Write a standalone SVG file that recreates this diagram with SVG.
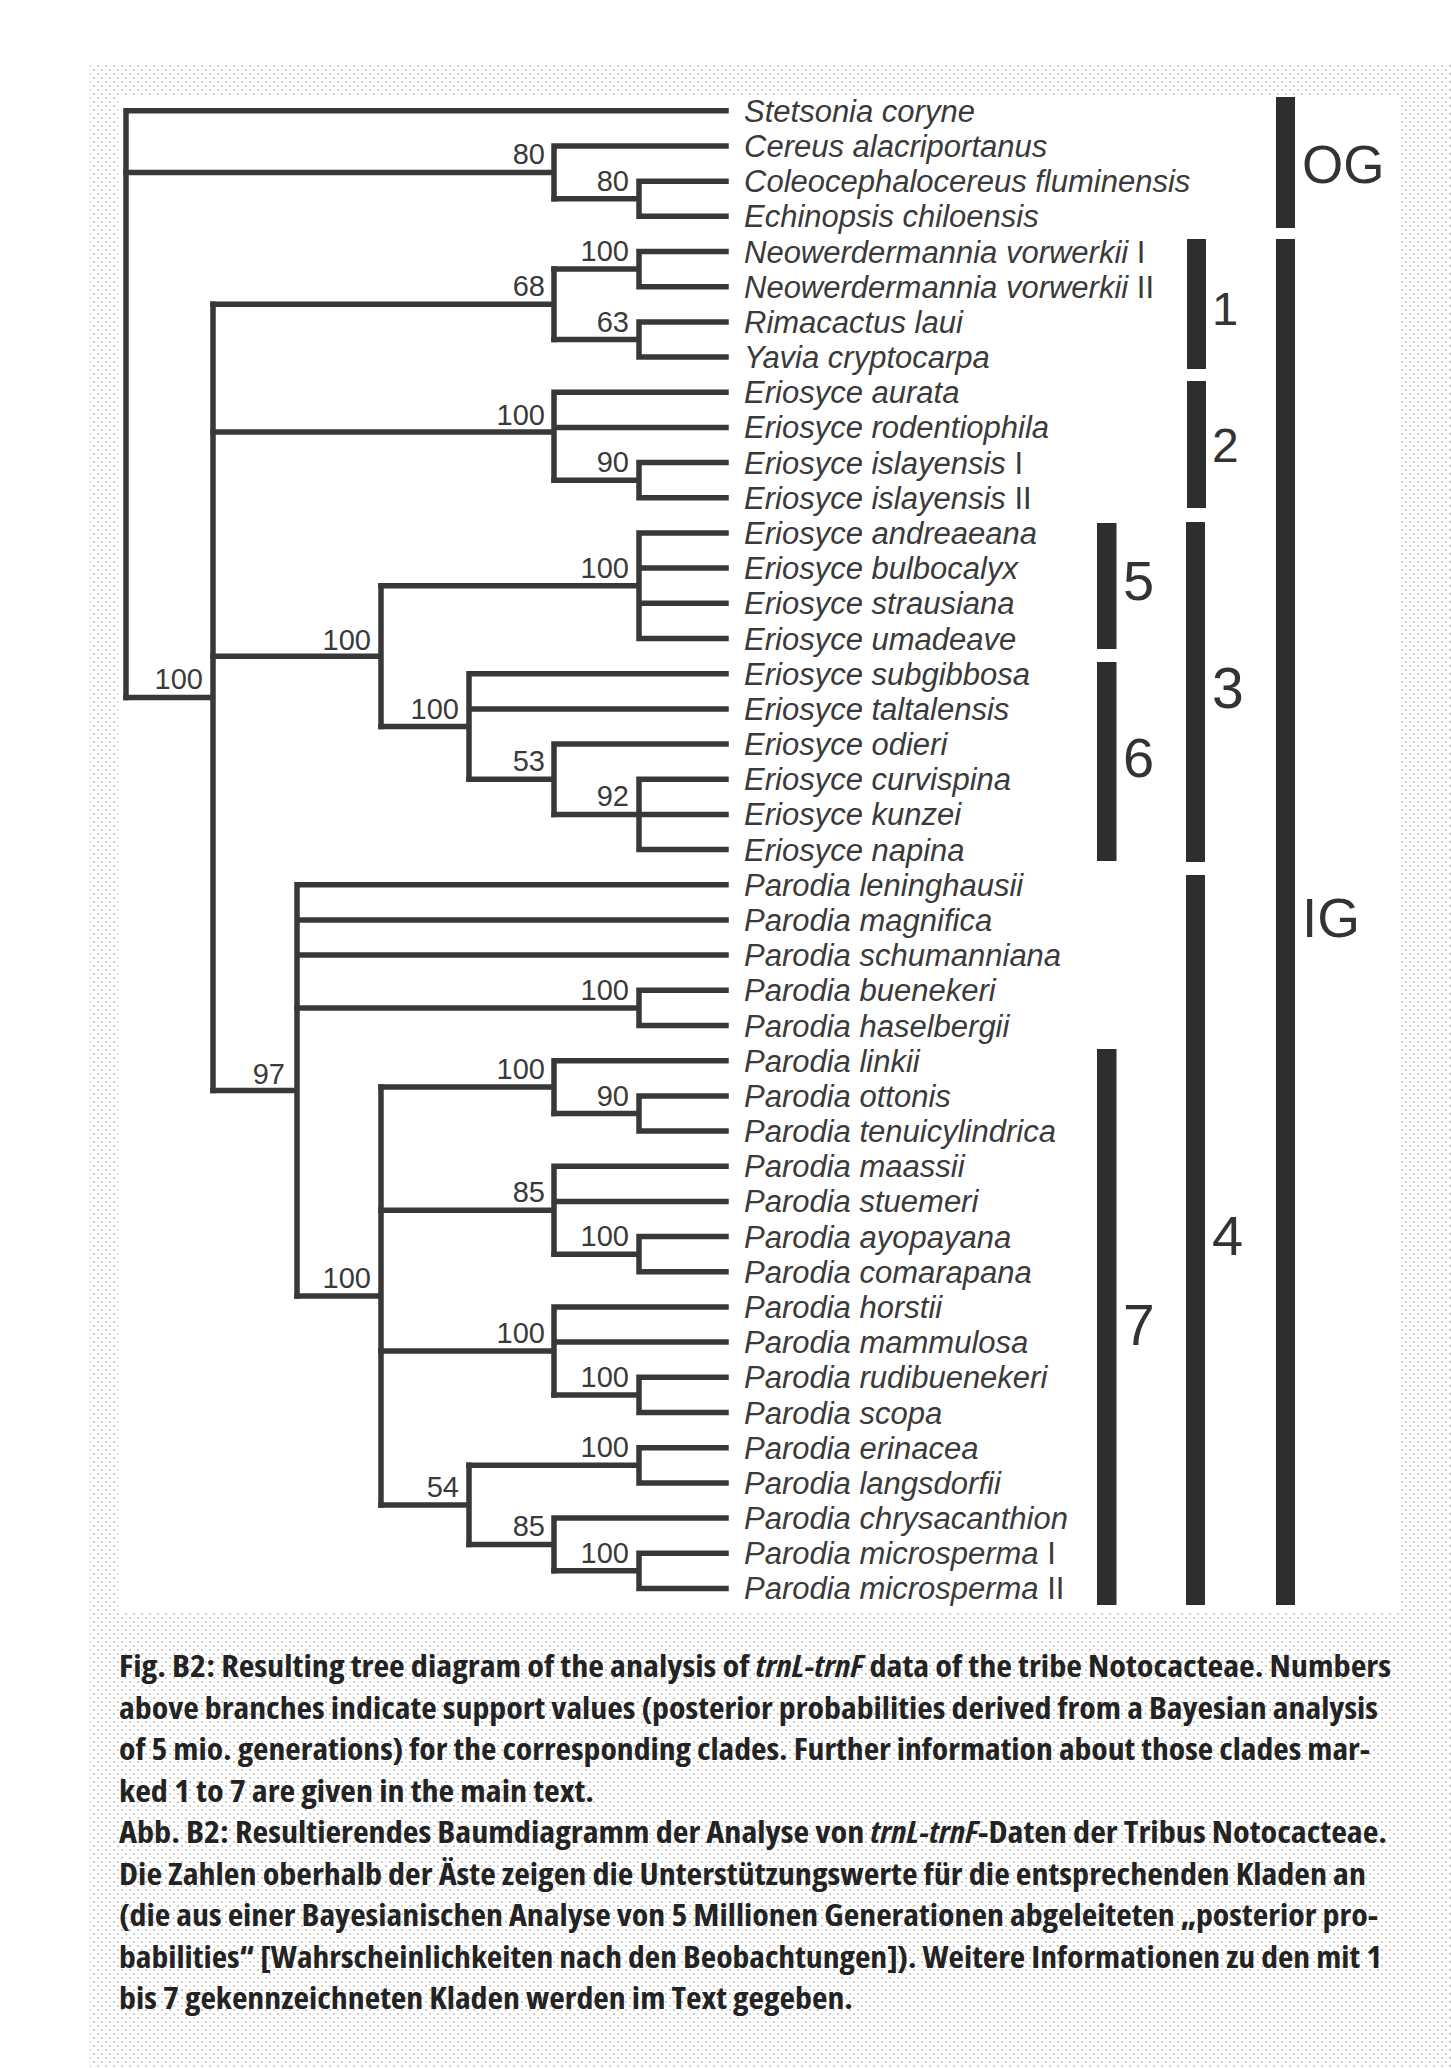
<svg xmlns="http://www.w3.org/2000/svg" width="1451" height="2068" viewBox="0 0 1451 2068">
<defs>
<pattern id="dots" width="8" height="8" patternUnits="userSpaceOnUse">
<circle cx="2" cy="2" r="0.9" fill="#b4b4b4"/><circle cx="6" cy="6" r="0.9" fill="#b4b4b4"/>
</pattern>
<style>
.br{fill:none;stroke:#383838;stroke-width:5.5;stroke-linecap:square;stroke-linejoin:miter}
.tx{font-family:"Liberation Sans",Arial,sans-serif;font-style:italic;font-size:31px;fill:#3a3a3a}
.tx .r{font-style:normal}
.sv{font-family:"Liberation Sans",Arial,sans-serif;font-size:29px;fill:#3a3a3a;text-anchor:end}
.bar{fill:#2e2e2e}
.bl{font-family:"Liberation Sans",Arial,sans-serif;fill:#333}
.cap{font-family:"Open Sans","Liberation Sans",sans-serif;font-weight:700;font-stretch:condensed;font-size:30px;fill:#232323}
</style>
</defs>
<rect width="1451" height="2068" fill="#fff"/>
<rect x="90" y="65" width="1361" height="2003" fill="url(#dots)"/>
<rect x="118" y="95" width="1283" height="1517" fill="#fff"/>

<g id="connectors" class="br">
<path d="M126 110.8V697.4M126 110.8H726"/>
<path d="M126 172.4H554M554 146V198.8M554 146H726"/>
<path d="M554 198.8H639M639 181.2V216.3M639 181.2H726M639 216.3H726"/>
<path d="M126 697.4H213M213 304.3V1090.4"/>
<path d="M213 304.3H554M554 269.1V339.5"/>
<path d="M554 269.1H639M639 251.5V286.7M639 251.5H726M639 286.7H726"/>
<path d="M554 339.5H639M639 321.9V357.1M639 321.9H726M639 357.1H726"/>
<path d="M213 432H554M554 392.2V480.2M554 392.2H726M554 427.4H726"/>
<path d="M554 480.2H639M639 462.6V497.8M639 462.6H726M639 497.8H726"/>
<path d="M213 656.2H381M381 585.8V726.5"/>
<path d="M381 585.8H639M639 533V638.5M639 533H726M639 568.1H726M639 603.3H726M639 638.5H726"/>
<path d="M381 726.5H469M469 673.7V779.2M469 673.7H726M469 708.9H726"/>
<path d="M469 779.2H554M554 744V814.4M554 744H726"/>
<path d="M554 814.4H639M639 779.2V849.6M639 779.2H726M639 814.4H726M639 849.6H726"/>
<path d="M213 1090.4H297M297 884.8V1296M297 884.8H726M297 920H726M297 955.1H726"/>
<path d="M297 1007.9H639M639 990.3V1025.5M639 990.3H726M639 1025.5H726"/>
<path d="M297 1296H381M381 1087.1V1504.9"/>
<path d="M381 1087.1H554M554 1060.7V1113.5M554 1060.7H726"/>
<path d="M554 1113.5H639M639 1095.9V1131M639 1095.9H726M639 1131H726"/>
<path d="M381 1210.2H554M554 1166.2V1254.2M554 1166.2H726M554 1201.4H726"/>
<path d="M554 1254.2H639M639 1236.6V1271.8M639 1236.6H726M639 1271.8H726"/>
<path d="M381 1351H554M554 1307V1394.9M554 1307H726M554 1342.1H726"/>
<path d="M554 1394.9H639M639 1377.3V1412.5M639 1377.3H726M639 1412.5H726"/>
<path d="M381 1504.9H469M469 1465.3V1544.4"/>
<path d="M469 1465.3H639M639 1447.7V1482.9M639 1447.7H726M639 1482.9H726"/>
<path d="M469 1544.4H554M554 1518V1570.8M554 1518H726"/>
<path d="M554 1570.8H639M639 1553.2V1588.4M639 1553.2H726M639 1588.4H726"/>
</g>

<g id="taxa" class="tx">
<g id="t00"><text x="744" y="121.8">Stetsonia coryne</text></g>
<g id="t01"><text x="744" y="157">Cereus alacriportanus</text></g>
<g id="t02"><text x="744" y="192.2">Coleocephalocereus fluminensis</text></g>
<g id="t03"><text x="744" y="227.3">Echinopsis chiloensis</text></g>
<g id="t04"><text x="744" y="262.5">Neowerdermannia vorwerkii <tspan class="r">I</tspan></text></g>
<g id="t05"><text x="744" y="297.7">Neowerdermannia vorwerkii <tspan class="r">II</tspan></text></g>
<g id="t06"><text x="744" y="332.9">Rimacactus laui</text></g>
<g id="t07"><text x="744" y="368.1">Yavia cryptocarpa</text></g>
<g id="t08"><text x="744" y="403.2">Eriosyce aurata</text></g>
<g id="t09"><text x="744" y="438.4">Eriosyce rodentiophila</text></g>
<g id="t10"><text x="744" y="473.6">Eriosyce islayensis <tspan class="r">I</tspan></text></g>
<g id="t11"><text x="744" y="508.8">Eriosyce islayensis <tspan class="r">II</tspan></text></g>
<g id="t12"><text x="744" y="544">Eriosyce andreaeana</text></g>
<g id="t13"><text x="744" y="579.1">Eriosyce bulbocalyx</text></g>
<g id="t14"><text x="744" y="614.3">Eriosyce strausiana</text></g>
<g id="t15"><text x="744" y="649.5">Eriosyce umadeave</text></g>
<g id="t16"><text x="744" y="684.7">Eriosyce subgibbosa</text></g>
<g id="t17"><text x="744" y="719.9">Eriosyce taltalensis</text></g>
<g id="t18"><text x="744" y="755">Eriosyce odieri</text></g>
<g id="t19"><text x="744" y="790.2">Eriosyce curvispina</text></g>
<g id="t20"><text x="744" y="825.4">Eriosyce kunzei</text></g>
<g id="t21"><text x="744" y="860.6">Eriosyce napina</text></g>
<g id="t22"><text x="744" y="895.8">Parodia leninghausii</text></g>
<g id="t23"><text x="744" y="931">Parodia magnifica</text></g>
<g id="t24"><text x="744" y="966.1">Parodia schumanniana</text></g>
<g id="t25"><text x="744" y="1001.3">Parodia buenekeri</text></g>
<g id="t26"><text x="744" y="1036.5">Parodia haselbergii</text></g>
<g id="t27"><text x="744" y="1071.7">Parodia linkii</text></g>
<g id="t28"><text x="744" y="1106.9">Parodia ottonis</text></g>
<g id="t29"><text x="744" y="1142">Parodia tenuicylindrica</text></g>
<g id="t30"><text x="744" y="1177.2">Parodia maassii</text></g>
<g id="t31"><text x="744" y="1212.4">Parodia stuemeri</text></g>
<g id="t32"><text x="744" y="1247.6">Parodia ayopayana</text></g>
<g id="t33"><text x="744" y="1282.8">Parodia comarapana</text></g>
<g id="t34"><text x="744" y="1318">Parodia horstii</text></g>
<g id="t35"><text x="744" y="1353.1">Parodia mammulosa</text></g>
<g id="t36"><text x="744" y="1388.3">Parodia rudibuenekeri</text></g>
<g id="t37"><text x="744" y="1423.5">Parodia scopa</text></g>
<g id="t38"><text x="744" y="1458.7">Parodia erinacea</text></g>
<g id="t39"><text x="744" y="1493.9">Parodia langsdorfii</text></g>
<g id="t40"><text x="744" y="1529">Parodia chrysacanthion</text></g>
<g id="t41"><text x="744" y="1564.2">Parodia microsperma <tspan class="r">I</tspan></text></g>
<g id="t42"><text x="744" y="1599.4">Parodia microsperma <tspan class="r">II</tspan></text></g>
</g>

<g id="support" class="sv">
<g id="n-A"><text x="545" y="164.4">80</text></g>
<g id="n-CE"><text x="629" y="190.8">80</text></g>
<g id="n-Neo"><text x="629" y="261.1">100</text></g>
<g id="n-68"><text x="545" y="296.3">68</text></g>
<g id="n-63"><text x="629" y="331.5">63</text></g>
<g id="n-C2"><text x="545" y="424.5">100</text></g>
<g id="n-90a"><text x="629" y="472.2">90</text></g>
<g id="n-C5"><text x="629" y="577.8">100</text></g>
<g id="n-C3"><text x="371" y="650">100</text></g>
<g id="n-IG"><text x="203" y="689">100</text></g>
<g id="n-C6"><text x="459" y="718.5">100</text></g>
<g id="n-53"><text x="545" y="771.2">53</text></g>
<g id="n-92"><text x="629" y="806.4">92</text></g>
<g id="n-Bue"><text x="629" y="999.9">100</text></g>
<g id="n-97"><text x="285" y="1084">97</text></g>
<g id="n-Lk"><text x="545" y="1079.1">100</text></g>
<g id="n-90b"><text x="629" y="1105.5">90</text></g>
<g id="n-85a"><text x="545" y="1202.2">85</text></g>
<g id="n-100c"><text x="629" y="1246.2">100</text></g>
<g id="n-C7"><text x="371" y="1288">100</text></g>
<g id="n-Hor"><text x="545" y="1343">100</text></g>
<g id="n-100d"><text x="629" y="1386.9">100</text></g>
<g id="n-Eri"><text x="629" y="1457.3">100</text></g>
<g id="n-54"><text x="459" y="1496.9">54</text></g>
<g id="n-85b"><text x="545" y="1536.4">85</text></g>
<g id="n-Mic"><text x="629" y="1562.8">100</text></g>
</g>

<g id="clade-OG"><rect class="bar" x="1276" y="97" width="19" height="131"/><text class="bl" x="1302" y="183" font-size="53">OG</text></g>
<g id="clade-IG"><rect class="bar" x="1276" y="239" width="19" height="1366"/><text class="bl" x="1302" y="937" font-size="55">IG</text></g>
<g id="clade-1"><rect class="bar" x="1187" y="239" width="19" height="130"/><text class="bl" x="1212" y="325" font-size="47">1</text></g>
<g id="clade-2"><rect class="bar" x="1187" y="381" width="19" height="127"/><text class="bl" x="1212" y="462" font-size="48">2</text></g>
<g id="clade-3"><rect class="bar" x="1186" y="522" width="19" height="340"/><text class="bl" x="1212" y="708" font-size="57">3</text></g>
<g id="clade-4"><rect class="bar" x="1186" y="875" width="19" height="730"/><text class="bl" x="1212" y="1255" font-size="56">4</text></g>
<g id="clade-5"><rect class="bar" x="1097" y="523" width="19.5" height="126"/><text class="bl" x="1123" y="600" font-size="56">5</text></g>
<g id="clade-6"><rect class="bar" x="1097" y="662" width="19.5" height="199"/><text class="bl" x="1123" y="777" font-size="56">6</text></g>
<g id="clade-7"><rect class="bar" x="1097" y="1049" width="19.5" height="556"/><text class="bl" x="1123" y="1345" font-size="57">7</text></g>

<g id="caption" class="cap">
<text x="119" y="1677" textLength="1272" lengthAdjust="spacingAndGlyphs">Fig. B2: Resulting tree diagram of the analysis of <tspan font-style="italic">trnL-trnF</tspan> data of the tribe Notocacteae. Numbers</text>
<text x="119" y="1718.5" textLength="1259" lengthAdjust="spacingAndGlyphs">above branches indicate support values (posterior probabilities derived from a Bayesian analysis</text>
<text x="119" y="1760" textLength="1251" lengthAdjust="spacingAndGlyphs">of 5 mio. generations) for the corresponding clades. Further information about those clades mar-</text>
<text x="119" y="1801.5" textLength="475" lengthAdjust="spacingAndGlyphs">ked 1 to 7 are given in the main text.</text>
<text x="119" y="1843" textLength="1268" lengthAdjust="spacingAndGlyphs">Abb. B2: Resultierendes Baumdiagramm der Analyse von <tspan font-style="italic">trnL-trnF</tspan>-Daten der Tribus Notocacteae.</text>
<text x="119" y="1884.5" textLength="1247" lengthAdjust="spacingAndGlyphs">Die Zahlen oberhalb der Äste zeigen die Unterstützungswerte für die entsprechenden Kladen an</text>
<text x="119" y="1926" textLength="1259" lengthAdjust="spacingAndGlyphs">(die aus einer Bayesianischen Analyse von 5 Millionen Generationen abgeleiteten „posterior pro-</text>
<text x="119" y="1967.5" textLength="1263" lengthAdjust="spacingAndGlyphs">babilities“ [Wahrscheinlichkeiten nach den Beobachtungen]). Weitere Informationen zu den mit 1</text>
<text x="119" y="2009" textLength="734" lengthAdjust="spacingAndGlyphs">bis 7 gekennzeichneten Kladen werden im Text gegeben.</text>
</g>
</svg>
